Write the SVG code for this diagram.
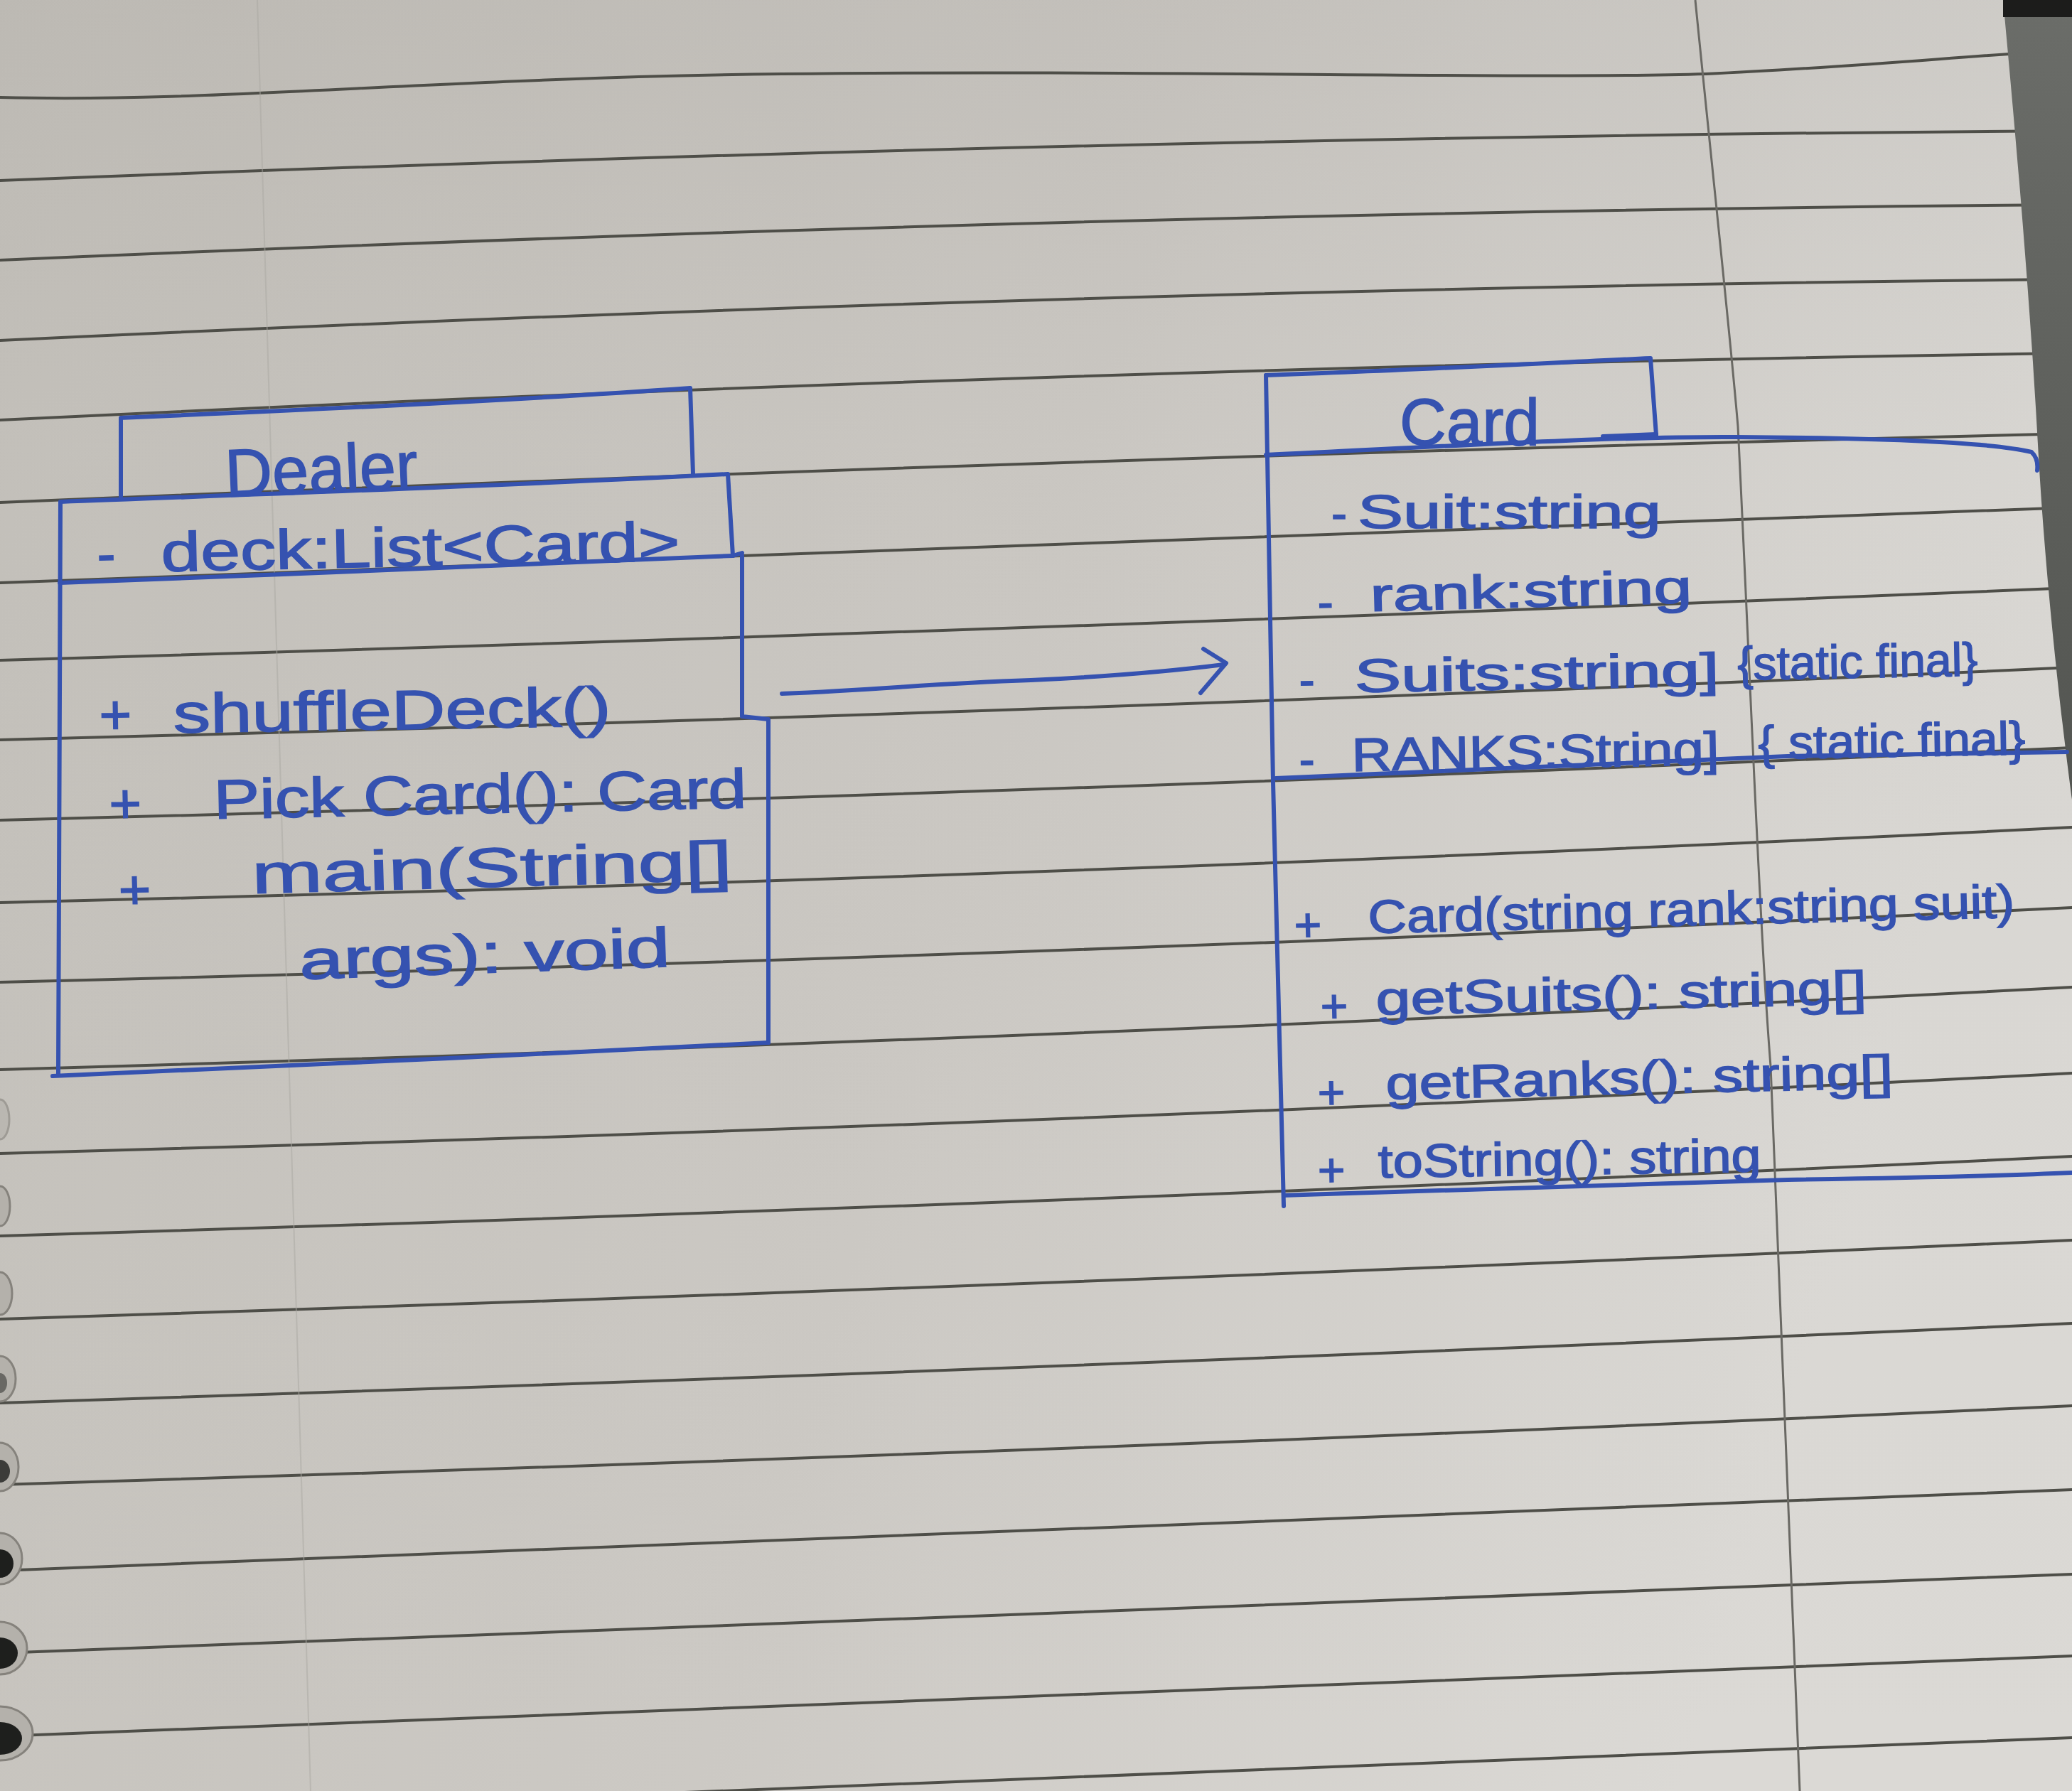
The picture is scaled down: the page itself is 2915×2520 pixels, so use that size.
<svg xmlns="http://www.w3.org/2000/svg" width="2915" height="2520" viewBox="0 0 2915 2520">
  <defs>
    <linearGradient id="paper" x1="0" y1="0" x2="1" y2="0.25">
      <stop offset="0" stop-color="#c4c1bb"/>
      <stop offset="0.55" stop-color="#ccc9c4"/>
      <stop offset="1" stop-color="#dbd9d5"/>
    </linearGradient>
    <linearGradient id="topshade" x1="0" y1="0" x2="0" y2="1">
      <stop offset="0" stop-color="#8f8b85" stop-opacity="0.14"/>
      <stop offset="0.25" stop-color="#8f8b85" stop-opacity="0.04"/>
      <stop offset="1" stop-color="#8f8b85" stop-opacity="0"/>
    </linearGradient>
    <linearGradient id="desk" x1="0" y1="0" x2="0" y2="1">
      <stop offset="0" stop-color="#6b6d69"/>
      <stop offset="1" stop-color="#535551"/>
    </linearGradient>
  </defs>
  <style>
    .rule { fill: none; stroke: #4e4e48; stroke-width: 4; stroke-linecap: round; }
    .ink { fill: none; stroke: #3552b0; stroke-width: 6; stroke-linecap: round; stroke-linejoin: round; }
    .hand { font-family: "Liberation Sans", "DejaVu Sans", sans-serif; fill: #3552b0; stroke: #3552b0; stroke-width: 1.5; }
    .big { font-size: 78px; }
    .mid { font-size: 66px; }
    .title { font-size: 95px; }
    .rim { fill: #b4b1ab; stroke: #85827c; stroke-width: 3; }
    .hole { fill: #1e1f1d; }
  </style>

  <!-- notebook page -->
  <g id="paper-sheet">
    <rect x="0" y="0" width="2915" height="2520" fill="url(#paper)"/>
    <rect x="0" y="0" width="2915" height="2520" fill="url(#topshade)"/>

    <!-- ruled lines -->
    <g id="ruled-lines">
      <path class="rule" d="M0,137 C300,145 600,110 1100,104 C1600,98 2150,112 2400,104 C2600,95 2750,80 2915,70"/>
      <path class="rule" d="M0,254 Q1542,193 2915,184"/>
      <path class="rule" d="M0,366 Q1542,299 2915,288"/>
      <path class="rule" d="M0,479 Q1542,406 2915,393"/>
      <path class="rule" d="M0,591 Q1542,516 2915,497"/>
      <path class="rule" d="M0,707 Q1542,643 2915,610"/>
      <path class="rule" d="M0,820 Q1542,769 2915,714"/>
      <path class="rule" d="M0,929 Q1542,884 2915,827"/>
      <path class="rule" d="M0,1041 Q1542,1002 2915,939"/>
      <path class="rule" d="M0,1154 Q1542,1115 2915,1052"/>
      <path class="rule" d="M0,1270 Q1542,1233 2915,1164"/>
      <path class="rule" d="M0,1382 Q1542,1344 2915,1277"/>
      <path class="rule" d="M0,1505 Q1542,1461 2915,1389"/>
      <path class="rule" d="M0,1623 Q1542,1581 2915,1510"/>
      <path class="rule" d="M0,1739 Q1542,1693 2915,1627"/>
      <path class="rule" d="M0,1856 Q1542,1807 2915,1745"/>
      <path class="rule" d="M0,1974 Q1542,1925 2915,1862"/>
      <path class="rule" d="M0,2089 Q1542,2042 2915,1978"/>
      <path class="rule" d="M0,2210 Q1542,2155 2915,2096"/>
      <path class="rule" d="M0,2326 Q1542,2271 2915,2215"/>
      <path class="rule" d="M0,2443 Q1542,2387 2915,2330"/>
      <path class="rule" d="M0,2560 Q1542,2495 2915,2445"/>
    </g>

    <!-- margins -->
    <path d="M2385,0 C2410,250 2435,480 2445,600 C2460,900 2475,1300 2491,1500 C2505,1900 2520,2250 2532,2520" fill="none" stroke="#6a6964" stroke-width="3"/>
    <path d="M362,0 L437,2520" fill="none" stroke="#aaa7a1" stroke-width="2" opacity="0.5"/>

    <!-- spiral binding holes -->
    <g id="binding">
      <ellipse class="rim" cx="0" cy="1575" rx="13" ry="28" opacity="0.6"/>
      <ellipse class="rim" cx="0" cy="1697" rx="14" ry="28"/>
      <ellipse class="rim" cx="0" cy="1820" rx="17" ry="30"/>
      <ellipse class="rim" cx="0" cy="1940" rx="22" ry="32"/>
      <ellipse class="hole" cx="0" cy="1946" rx="10" ry="14" opacity="0.5"/>
      <ellipse class="rim" cx="0" cy="2064" rx="26" ry="34"/>
      <ellipse class="hole" cx="0" cy="2070" rx="14" ry="16" opacity="0.8"/>
      <ellipse class="rim" cx="0" cy="2193" rx="31" ry="36"/>
      <ellipse class="hole" cx="0" cy="2200" rx="19" ry="20"/>
      <ellipse class="rim" cx="0" cy="2319" rx="38" ry="37"/>
      <ellipse class="hole" cx="0" cy="2326" rx="25" ry="22"/>
      <ellipse class="rim" cx="0" cy="2439" rx="46" ry="38"/>
      <ellipse class="hole" cx="0" cy="2446" rx="31" ry="23"/>
    </g>

    <!-- desk visible past the page edge -->
    <path d="M2818,0 L2915,0 L2915,1125 C2905,1050 2880,850 2868,643 C2855,400 2832,150 2818,0 Z" fill="url(#desk)"/>
    <rect x="2818" y="0" width="97" height="24" fill="#1c1c1b"/>
  </g>

  <!-- Dealer class -->
  <g id="dealer">
    <path class="ink" d="M170,699 L170,588 C400,578 700,565 971,546 L975,667"/>
    <path class="ink" d="M85,706 C400,694 750,682 1024,667 L1031,782"/>
    <path class="ink" d="M84,820 C400,808 750,795 1031,782 L1044,778"/>
    <path class="ink" d="M1044,782 L1044,1008 L1081,1012 L1081,1467"/>
    <path class="ink" d="M85,706 L82,1512"/>
    <path class="ink" d="M74,1514 C400,1500 750,1484 1081,1467"/>

    <text class="hand title" x="318" y="699" textLength="271" lengthAdjust="spacingAndGlyphs" transform="rotate(-2.5 318 699)">Dealer</text>
    <text class="hand big" transform="rotate(-1.2 227 804)"><tspan x="137" y="804">-</tspan><tspan x="227" y="804" textLength="730" lengthAdjust="spacingAndGlyphs">deck:List&lt;Card&gt;</tspan></text>
    <text class="hand big" transform="rotate(-0.9 244 1031)"><tspan x="140" y="1031">+</tspan><tspan x="244" y="1031" textLength="616" lengthAdjust="spacingAndGlyphs">shuffleDeck()</tspan></text>
    <text class="hand big" transform="rotate(-1.2 301 1152)"><tspan x="154" y="1155">+</tspan><tspan x="301" y="1152" textLength="750" lengthAdjust="spacingAndGlyphs">Pick Card(): Card</tspan></text>
    <text class="hand big" transform="rotate(-1.6 355 1257)"><tspan x="167" y="1274">+</tspan><tspan x="355" y="1257" textLength="676" lengthAdjust="spacingAndGlyphs">main(String[]</tspan></text>
    <text class="hand big" x="422" y="1378" textLength="522" lengthAdjust="spacingAndGlyphs" transform="rotate(-2 422 1378)">args): void</text>
  </g>

  <!-- Card class -->
  <g id="card">
    <path class="ink" d="M1781,528 C1960,522 2150,512 2322,504 L2330,612"/>
    <path class="ink" d="M2255,614 L2330,611"/>
    <path class="ink" d="M1781,528 L1791,1100 L1806,1697"/>
    <path class="ink" d="M1781,640 C2000,630 2250,614 2441,615 C2650,616 2800,622 2858,636 Q2868,645 2866,662"/>
    <path class="ink" d="M1795,1095 C2100,1084 2400,1068 2515,1064 C2700,1061 2850,1060 2908,1058"/>
    <path class="ink" d="M1806,1682 C2100,1672 2400,1662 2515,1660 C2700,1657 2850,1653 2915,1650"/>

    <text class="hand" font-size="93" x="1969" y="626" textLength="197" lengthAdjust="spacingAndGlyphs">Card</text>
    <text class="hand mid"><tspan x="1873" y="745">-</tspan><tspan x="1910" y="743" textLength="427" lengthAdjust="spacingAndGlyphs">Suit:string</tspan></text>
    <text class="hand mid" transform="rotate(-1.5 1928 860)"><tspan x="1854" y="868">-</tspan><tspan x="1928" y="860" textLength="453" lengthAdjust="spacingAndGlyphs">rank:string</tspan></text>
    <text class="hand mid" transform="rotate(-1 1906 974)"><tspan x="1828" y="978">-</tspan><tspan x="1906" y="974" textLength="513" lengthAdjust="spacingAndGlyphs">Suits:string]</tspan><tspan x="2445" y="966" textLength="338" lengthAdjust="spacingAndGlyphs">{static final}</tspan></text>
    <text class="hand mid" transform="rotate(-1 1902 1085)"><tspan x="1828" y="1090">-</tspan><tspan x="1902" y="1085" textLength="517" lengthAdjust="spacingAndGlyphs">RANKS:String]</tspan><tspan x="2474" y="1078" textLength="376" lengthAdjust="spacingAndGlyphs">{ static final}</tspan></text>
    <text class="hand mid" transform="rotate(-1.4 1925 1313)"><tspan x="1821" y="1322">+</tspan><tspan x="1925" y="1313" textLength="910" lengthAdjust="spacingAndGlyphs">Card(string rank:string suit)</tspan></text>
    <text class="hand mid" transform="rotate(-1.3 1936 1428)"><tspan x="1858" y="1437">+</tspan><tspan x="1936" y="1428" textLength="691" lengthAdjust="spacingAndGlyphs">getSuits(): string[]</tspan></text>
    <text class="hand mid" transform="rotate(-1.3 1950 1547)"><tspan x="1854" y="1558">+</tspan><tspan x="1950" y="1547" textLength="714" lengthAdjust="spacingAndGlyphs">getRanks(): string[]</tspan></text>
    <text class="hand mid" transform="rotate(-0.9 1939 1657)"><tspan x="1854" y="1668">+</tspan><tspan x="1939" y="1657" textLength="539" lengthAdjust="spacingAndGlyphs">toString(): string</tspan></text>
  </g>

  <!-- association Dealer -> Card -->
  <g id="connectors">
    <path class="ink" d="M1100,976 C1250,970 1300,962 1450,957 C1560,952 1650,944 1722,935"/>
    <path class="ink" d="M1693,913 L1725,933 L1689,975"/>
  </g>
</svg>
